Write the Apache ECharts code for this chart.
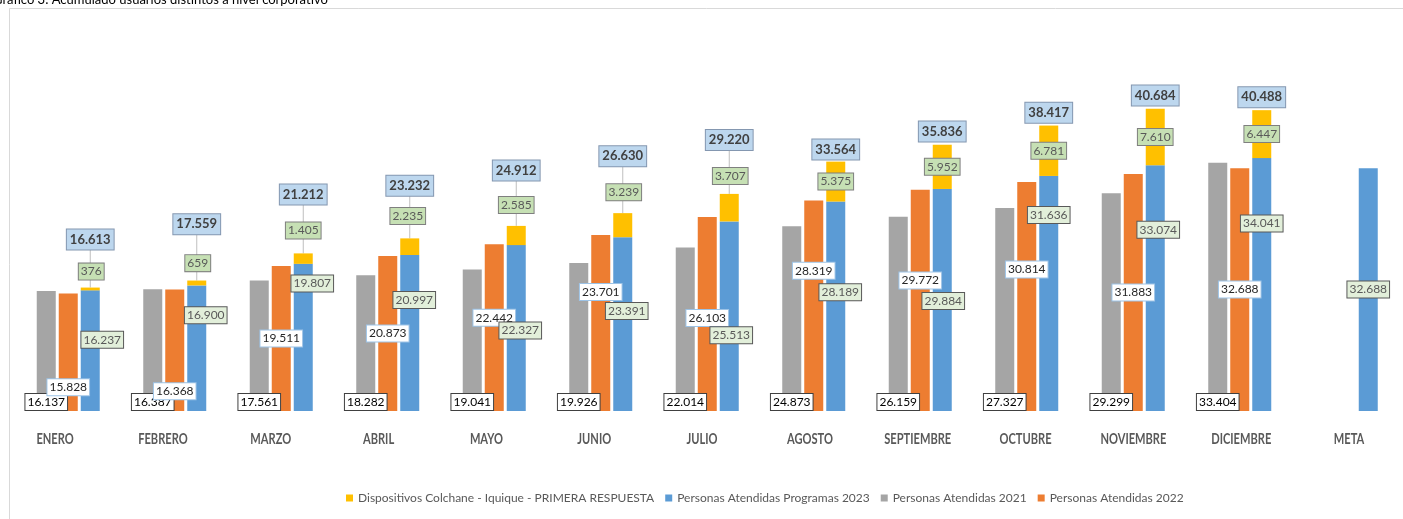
<!DOCTYPE html>
<html>
<head>
<meta charset="utf-8">
<script src="https://cdn.jsdelivr.net/npm/echarts@6/dist/echarts.min.js"></script>
<style>
html, body { margin: 0; padding: 0; background: #fff; }
#chart { width: 1403px; height: 519px; }
</style>
</head>
<body>
<div id="chart"></div>
<script>
// datos
var categorias = ['ENERO', 'FEBRERO', 'MARZO', 'ABRIL', 'MAYO', 'JUNIO', 'JULIO', 'AGOSTO', 'SEPTIEMBRE', 'OCTUBRE', 'NOVIEMBRE', 'DICIEMBRE', 'META'];
var atendidas2021 = [16137, 16387, 17561, 18282, 19041, 19926, 22014, 24873, 26159, 27327, 29299, 33404, null];
var atendidas2022 = [15828, 16368, 19511, 20873, 22442, 23701, 26103, 28319, 29772, 30814, 31883, 32688, null];
var programas2023 = [16237, 16900, 19807, 20997, 22327, 23391, 25513, 28189, 29884, 31636, 33074, 34041, 32688];
var dispositivos = [376, 659, 1405, 2235, 2585, 3239, 3707, 5375, 5952, 6781, 7610, 6447, null];
var totales = [16613, 17559, 21212, 23232, 24912, 26630, 29220, 33564, 35836, 38417, 40684, 40488, null];

// desplazamientos de etiquetas (px), solo estilo
var offNaranjo = [[0, 35], [0, 41], [0, 0], [0, 0], [0, -10], [0, -31], [0, 4], [0, -35], [0, -20], [0, -27], [0, 0], [0, 0]];
var offAzul = [[12, -11], [9, -33], [9, -54], [4.5, -33], [4, 2.5], [4, -13], [2, 19], [4.5, -14], [1, 1], [0, -78.5], [3, -58.5], [0, -61], [0, 0]];
var offAmarillo = [[1, -8], [1, -9.4], [0, -15], [-2, -14.5], [0, -13], [1, -13], [1, -10], [0, 0], [0, 0], [0, 0], [0, 0], [0, 0]];
var sobreTotal = [48, 56.4, 59, 52.7, 55.3, 57, 54, 12, 13.3, 12.7, 13.3, 13];

var FONT = 'Lato, "Open Sans", sans-serif';
var BAR_W = 19, BAR_GAP = 3;

function fmt(v){
    return String(v).replace(/\B(?=(\d{3})+(?!\d))/g, '.');
}

function etiqueta(bg, border, color){
    return {
        show: true,
        formatter: function(p){ return p.value == null ? '' : fmt(p.value); },
        fontFamily: FONT,
        fontSize: 12,
        lineHeight: 14,
        color: color,
        backgroundColor: bg,
        borderColor: border,
        borderWidth: 1,
        padding: [1, 2, 1, 2]
    };
}

var chart = echarts.init(document.getElementById('chart'));

var option = {
    animation: false,
    title: {
        text: 'Gráfico 3: Acumulado usuarios distintos a nivel corporativo',
        left: -12,
        top: -12,
        textStyle: { fontFamily: FONT, fontSize: 13, fontWeight: 'normal', color: '#000' }
    },
    graphic: [{
        type: 'rect',
        silent: true,
        z: -10,
        shape: { x: 9.5, y: 8.5, width: 1500, height: 600 },
        style: { fill: null, stroke: '#d9d9d9', lineWidth: 1 }
    }],
    legend: {
        left: 341,
        top: 487,
        icon: 'rect',
        itemWidth: 7,
        itemHeight: 7,
        itemGap: 11,
        textStyle: { fontFamily: FONT, fontSize: 12, color: '#595959' },
        data: ['Dispositivos Colchane - Iquique - PRIMERA RESPUESTA', 'Personas Atendidas Programas 2023', 'Personas Atendidas 2021', 'Personas Atendidas 2022']
    },
    grid: [
        { left: 15, width: 1384.5, top: 39.5, bottom: 108 },
        { left: 1.15, width: 1408, top: 39.5, bottom: 108 }
    ],
    xAxis: [{
        type: 'category',
        data: categorias,
        gridIndex: 0,
        axisLine: { show: false },
        axisTick: { show: false },
        axisLabel: { show: false }
    }, {
        type: 'category',
        data: categorias,
        gridIndex: 1,
        axisLine: { show: false },
        axisTick: { show: false },
        axisLabel: { show: false }
    }],
    yAxis: [{
        type: 'value',
        gridIndex: 0,
        min: 0,
        max: 50000,
        show: false,
        splitLine: { show: false }
    }, {
        type: 'value',
        gridIndex: 1,
        min: 0,
        max: 50000,
        show: false,
        splitLine: { show: false }
    }],
    series: [{
        name: 'Personas Atendidas 2021',
        type: 'bar',
        barWidth: BAR_W,
        barGap: (BAR_GAP / BAR_W * 100) + '%',
        itemStyle: { color: '#a5a5a5' },
        label: Object.assign(etiqueta('#ffffff', '#404040', '#000000'), { position: 'insideBottom', distance: 1 }),
        data: atendidas2021
    }, {
        name: 'Personas Atendidas 2022',
        type: 'bar',
        barWidth: BAR_W,
        barGap: (BAR_GAP / BAR_W * 100) + '%',
        itemStyle: { color: '#ed7d31' },
        label: Object.assign(etiqueta('#ffffff', '#9dc3e6', '#262626'), { position: 'inside' }),
        data: atendidas2022.map(function(v, i){
            return { value: v, label: { offset: offNaranjo[i] } };
        })
    }, {
        name: 'Personas Atendidas Programas 2023',
        type: 'bar',
        stack: 'total',
        barWidth: BAR_W,
        barGap: (BAR_GAP / BAR_W * 100) + '%',
        itemStyle: { color: '#5b9bd5' },
        label: Object.assign(etiqueta('#e2efda', '#595959', '#595959'), { position: 'inside' }),
        data: programas2023.map(function(v, i){
            return { value: v, label: { offset: offAzul[i] } };
        })
    }, {
        name: 'Dispositivos Colchane - Iquique - PRIMERA RESPUESTA',
        type: 'bar',
        stack: 'total',
        barWidth: BAR_W,
        barGap: (BAR_GAP / BAR_W * 100) + '%',
        itemStyle: { color: '#ffc000' },
        label: Object.assign(etiqueta('#c6e0b4', '#7f7f7f', '#595959'), { position: 'inside' }),
        data: dispositivos.map(function(v, i){
            var arriba = sobreTotal[i] > 30;
            return {
                value: v,
                label: { position: arriba ? 'top' : 'inside', distance: 0, offset: offAmarillo[i] || [0, 0] }
            };
        })
    }, {
        name: 'Total',
        type: 'custom',
        z: 1,
        xAxisIndex: 0,
        yAxisIndex: 0,
        encode: { x: 0, y: 1 },
        data: totales.map(function(v, i){ return [i, v]; }),
        renderItem: function(params, api){
            var i = params.dataIndex;
            var v = api.value(1);
            if (v == null || isNaN(v)) return null;
            var pt = api.coord([api.value(0), v]);
            var x = pt[0] + BAR_W + BAR_GAP;
            var cy = pt[1] - sobreTotal[i];
            var hijos = [];
            if (sobreTotal[i] > 30) {
                hijos.push({
                    type: 'line',
                    shape: { x1: x, y1: cy + 10, x2: x, y2: pt[1] },
                    style: { stroke: '#bfbfbf', lineWidth: 1 }
                });
            }
            hijos.push({
                type: 'text',
                x: x,
                y: cy,
                style: {
                    text: fmt(v),
                    align: 'center',
                    verticalAlign: 'middle',
                    font: 'bold 13px ' + FONT,
                    fill: '#404040',
                    backgroundColor: '#bdd7ee',
                    borderColor: '#8497b0',
                    borderWidth: 1,
                    padding: [4, 3, 3, 3]
                }
            });
            return { type: 'group', children: hijos };
        }
    }, {
        // rotulos de meses (texto condensado, como en Excel)
        name: 'Meses',
        type: 'custom',
        xAxisIndex: 1,
        yAxisIndex: 1,
        silent: true,
        clip: false,
        encode: { x: 0, y: 1 },
        data: categorias.map(function(c, i){ return [i, 0]; }),
        renderItem: function(params, api){
            var pt = api.coord([api.value(0), 0]);
            return {
                type: 'text',
                x: pt[0],
                y: pt[1] + 28.5,
                scaleX: 0.74,
                style: {
                    text: categorias[params.dataIndex],
                    align: 'center',
                    verticalAlign: 'middle',
                    font: 'bold 15px ' + FONT,
                    fill: '#595959'
                }
            };
        }
    }]
};

chart.setOption(option);
</script>
</body>
</html>
